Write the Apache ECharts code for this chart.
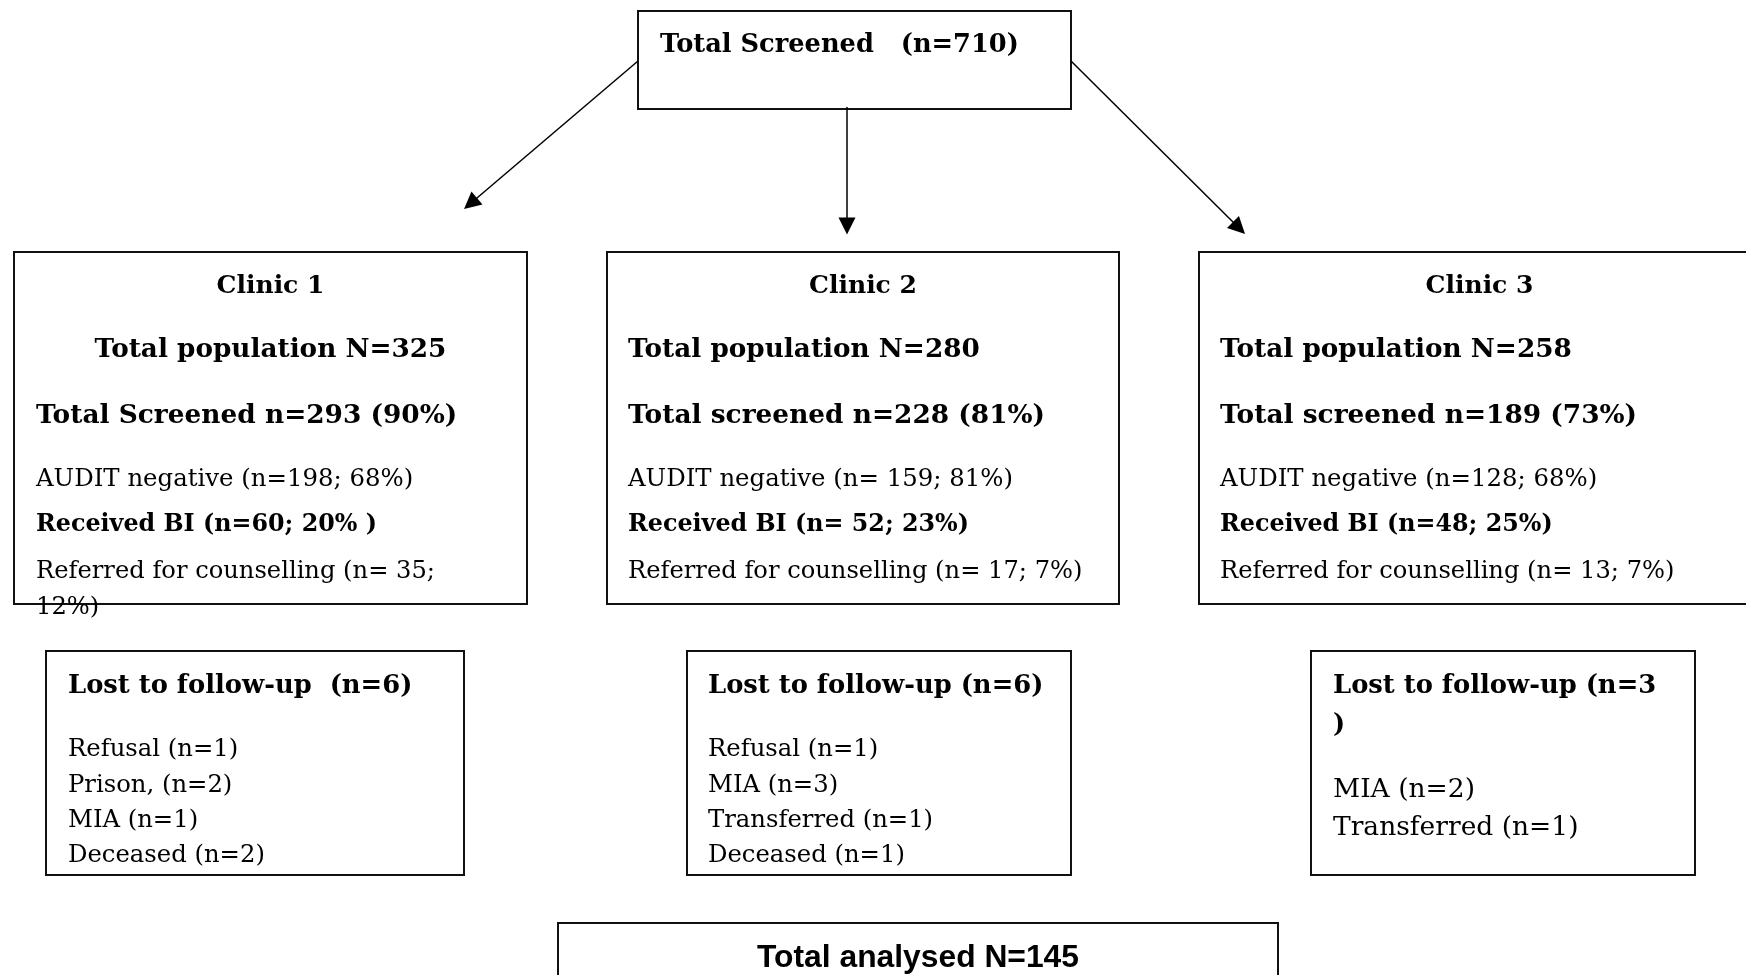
<!DOCTYPE html>
<html>
<head>
<meta charset="utf-8">
<script src="https://cdn.jsdelivr.net/npm/echarts@6/dist/echarts.min.js"></script>
<style>
html,body{margin:0;padding:0;background:#fff;}
#chart{width:1746px;height:975px;}
</style>
</head>
<body>
<div id="chart"></div>
<script>
// ---------------- DATA ----------------
const totalScreenedAll = 710;
const totalAnalysed = 145;
const clinicNames = ['Clinic 1', 'Clinic 2', 'Clinic 3'];
const totalPopulation = [325, 280, 258];
const screenedLabel = ['Total Screened', 'Total screened', 'Total screened'];
const screenedN = [293, 228, 189];
const screenedPct = [90, 81, 73];
const auditNegativeText = ['AUDIT negative (n=198; 68%)', 'AUDIT negative (n= 159; 81%)', 'AUDIT negative (n=128; 68%)'];
const receivedBIText = ['Received BI (n=60; 20% )', 'Received BI (n= 52; 23%)', 'Received BI (n=48; 25%)'];
const referredText = [['Referred for counselling (n= 35;', '12%)'], ['Referred for counselling (n= 17; 7%)'], ['Referred for counselling (n= 13; 7%)']];
const lostTitle = [['Lost to follow-up  (n=6)'], ['Lost to follow-up (n=6)'], ['Lost to follow-up (n=3', ')']];
const lostReasons = [
  ['Refusal (n=1)', 'Prison, (n=2)', 'MIA (n=1)', 'Deceased (n=2)'],
  ['Refusal (n=1)', 'MIA (n=3)', 'Transferred (n=1)', 'Deceased (n=1)'],
  ['MIA (n=2)', 'Transferred (n=1)']
];

// ---------------- LAYOUT (pixel space of the diagram) ----------------
const W = 1746, H = 975;
const SERIF = '"DejaVu Serif", serif';
const SANS = '"Liberation Sans", Arial, sans-serif';
const topBox = {x0: 638, y0: 11, x1: 1071, y1: 109};
const clinicBoxes = [
  {x0: 14, x1: 527}, {x0: 607, x1: 1119}, {x0: 1199, x1: 1760}
];
const clinicY = {y0: 252, y1: 604};
const clinicTextX = [36, 628, 1220];
const clinicCenterAlign = [true, false, false];
const lostBoxes = [
  {x0: 46, x1: 464}, {x0: 687, x1: 1071}, {x0: 1311, x1: 1695}
];
const lostY = {y0: 651, y1: 875};
const lostTextX = [68, 708, 1333];
const bottomBox = {x0: 558, y0: 923, x1: 1278, y1: 990};
const arrows = [
  [[638, 61], [470.5, 203.5]],
  [[847, 107], [847, 226]],
  [[1071, 61], [1239, 228]]
];

function buildItems() {
  const items = [];
  items.push({box: topBox, texts: [{t: 'Total Screened   (n=' + totalScreenedAll + ')', x: 660, y: 45, font: 'bold 25.7px ' + SERIF, align: 'left'}]});
  for (let i = 0; i < 3; i++) {
    const b = clinicBoxes[i];
    const cx = (b.x0 + b.x1) / 2;
    const texts = [];
    texts.push({t: clinicNames[i], x: cx, y: 286, font: 'bold 25px ' + SERIF, align: 'center'});
    texts.push({t: 'Total population N=' + totalPopulation[i], x: clinicCenterAlign[i] ? cx : clinicTextX[i], y: 350, font: 'bold 26.3px ' + SERIF, align: clinicCenterAlign[i] ? 'center' : 'left'});
    texts.push({t: screenedLabel[i] + ' n=' + screenedN[i] + ' (' + screenedPct[i] + '%)', x: clinicTextX[i], y: 416, font: 'bold 26.4px ' + SERIF, align: 'left'});
    texts.push({t: auditNegativeText[i], x: clinicTextX[i], y: 480, font: '24.4px ' + SERIF, align: 'left'});
    texts.push({t: receivedBIText[i], x: clinicTextX[i], y: 525, font: 'bold 23.8px ' + SERIF, align: 'left'});
    referredText[i].forEach((s, k) => texts.push({t: s, x: clinicTextX[i], y: 572 + k * 36, font: '24.2px ' + SERIF, align: 'left'}));
    items.push({box: {x0: b.x0, y0: clinicY.y0, x1: b.x1, y1: clinicY.y1}, texts});
  }
  for (let i = 0; i < 3; i++) {
    const b = lostBoxes[i];
    const texts = [];
    lostTitle[i].forEach((s, k) => texts.push({t: s, x: lostTextX[i], y: 686 + k * 39, font: 'bold 25.8px ' + SERIF, align: 'left'}));
    if (i < 2) {
      lostReasons[i].forEach((s, k) => texts.push({t: s, x: lostTextX[i], y: 750 + k * 35.3, font: '24.3px ' + SERIF, align: 'left'}));
    } else {
      lostReasons[i].forEach((s, k) => texts.push({t: s, x: lostTextX[i], y: 790 + k * 38, font: '26.5px ' + SERIF, align: 'left'}));
    }
    items.push({box: {x0: b.x0, y0: lostY.y0, x1: b.x1, y1: lostY.y1}, texts});
  }
  items.push({box: bottomBox, texts: [{t: 'Total analysed N=' + totalAnalysed, x: (bottomBox.x0 + bottomBox.x1) / 2, y: 958, font: 'bold 31.8px ' + SANS, align: 'center'}]});
  return items;
}
const items = buildItems();

const chart = echarts.init(document.getElementById('chart'), null, {renderer: 'canvas'});
chart.setOption({
  backgroundColor: '#ffffff',
  animation: false,
  grid: {left: 0, right: 0, top: 0, bottom: 0},
  xAxis: {type: 'value', min: 0, max: W, show: false},
  yAxis: {type: 'value', min: 0, max: H, inverse: true, show: false},
  series: [
    {
      type: 'custom',
      coordinateSystem: 'cartesian2d',
      data: items.map((d, i) => [i]),
      renderItem: function (params, api) {
        const it = items[api.value(0)];
        const p0 = api.coord([it.box.x0, it.box.y0]);
        const p1 = api.coord([it.box.x1, it.box.y1]);
        const children = [{
          type: 'rect',
          shape: {x: p0[0], y: p0[1], width: p1[0] - p0[0], height: p1[1] - p0[1]},
          style: {fill: '#fff', stroke: '#111', lineWidth: 2}
        }];
        it.texts.forEach(tx => {
          const p = api.coord([tx.x, tx.y]);
          children.push({
            type: 'text',
            style: {text: tx.t, x: p[0], y: p[1], font: tx.font, fill: '#000', align: tx.align, verticalAlign: 'middle'}
          });
        });
        return {type: 'group', children};
      }
    },
    {
      type: 'lines',
      coordinateSystem: 'cartesian2d',
      symbol: ['none', 'triangle'],
      symbolSize: [13, 17],
      lineStyle: {color: '#000', width: 1.5, opacity: 1},
      itemStyle: {color: '#000'},
      data: arrows.map(a => ({coords: a}))
    }
  ]
});
</script>
</body>
</html>
